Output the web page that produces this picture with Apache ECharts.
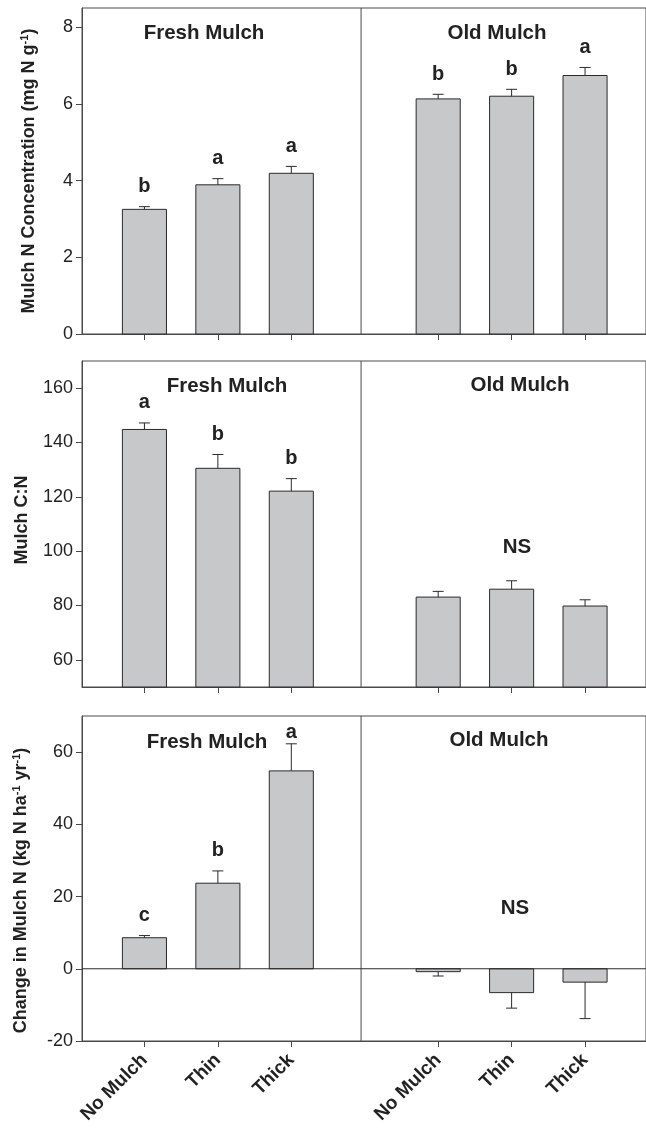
<!DOCTYPE html>
<html>
<head>
<meta charset="utf-8">
<script src="https://cdn.jsdelivr.net/npm/echarts@6/dist/echarts.min.js"></script>
<style>
  html, body { margin: 0; padding: 0; background: #fff; }
  #chart { width: 646px; height: 1129px; }
</style>
</head>
<body>
<div id="chart"></div>
<script>
// Mulch groups and treatments
const groups = ['Fresh Mulch', 'Old Mulch'];
const treatments = ['No Mulch', 'Thin', 'Thick'];

// Panel 1: mulch N concentration (mg N g-1), mean and SE
const nConc = [3.25, 3.89, 4.19, 6.13, 6.20, 6.74];
const nConcErr = [0.07, 0.16, 0.18, 0.12, 0.18, 0.21];
const nConcLetters = ['b', 'a', 'a', 'b', 'b', 'a'];
const nConcTicks = [0, 2, 4, 6, 8];

// Panel 2: mulch C:N
const cn = [144.8, 130.5, 122.1, 83.1, 86.0, 79.8];
const cnErr = [2.4, 5.1, 4.6, 2.1, 3.1, 2.3];
const cnLetters = ['a', 'b', 'b', '', '', ''];
const cnTicks = [60, 80, 100, 120, 140, 160];

// Panel 3: change in mulch N (kg N ha-1 yr-1)
const dN = [8.6, 23.7, 54.8, -0.8, -6.6, -3.7];
const dNErr = [0.6, 3.4, 7.5, 1.2, 4.3, 10.1];
const dNLetters = ['c', 'b', 'a', '', '', ''];
const dNTicks = [-20, 0, 20, 40, 60];

const FONT = 'Liberation Sans, Arial, Helvetica, sans-serif';
const AXIS = '#4a4a4a';
const INK = '#222';

// bar i sits at group*4 + treatment + 1 on the x value axis
const xOf = i => Math.floor(i / 3) * 4 + (i % 3) + 1;
const barTicks = [0, 1, 2, 3, 4, 5].map(xOf);

const panels = [
  { top: 8, height: 326, min: 0, max: 8.5, base: 0, ticks: nConcTicks,
    vals: nConc, errs: nConcErr, letters: nConcLetters, nameGap: 43, namePad: [0, 0, 0, 0],
    name: 'Mulch N Concentration (mg N g{sup|-1})' },
  { top: 361, height: 326, min: 50, max: 170, base: 50, ticks: cnTicks,
    vals: cn, errs: cnErr, letters: cnLetters, nameGap: 51, namePad: [0, 0, 0, 8],
    name: 'Mulch C:N' },
  { top: 716, height: 325, min: -20, max: 70, base: 0, ticks: dNTicks,
    vals: dN, errs: dNErr, letters: dNLetters, nameGap: 51, namePad: [0, 24, 0, 0], zeroLine: true,
    name: 'Change in Mulch N (kg N ha{sup|-1} yr{sup|-1})' }
];

const grid = [], xAxis = [], yAxis = [], series = [];

panels.forEach((p, k) => {
  grid.push({ left: 82, top: p.top, width: 566, height: p.height,
              show: true, borderColor: AXIS, borderWidth: 1, backgroundColor: 'transparent' });
  const last = k === panels.length - 1;
  xAxis.push({
    gridIndex: k, type: 'value', min: 0.15, max: 7.83,
    axisLine: { show: true, onZero: false, lineStyle: { color: AXIS, width: 1 } },
    axisTick: { show: true, length: 6, customValues: barTicks, lineStyle: { color: AXIS } },
    axisLabel: {
      show: last, customValues: barTicks, rotate: 45, margin: 16,
      fontFamily: FONT, fontSize: 19, fontWeight: 'bold', color: INK,
      formatter: v => treatments[(v - 1) % 4]
    },
    splitLine: { show: false }
  });
  yAxis.push({
    gridIndex: k, type: 'value', min: p.min, max: p.max,
    axisLine: { show: true, lineStyle: { color: AXIS, width: 1 } },
    axisTick: { show: true, length: 6, customValues: p.ticks, lineStyle: { color: AXIS } },
    axisLabel: { customValues: p.ticks, margin: 9, fontFamily: FONT, fontSize: 18, color: INK },
    splitLine: { show: false },
    name: p.name, nameLocation: 'middle', nameRotate: 90, nameGap: p.nameGap,
    nameTextStyle: {
      fontFamily: FONT, fontSize: 18, fontWeight: 'bold', color: INK, padding: p.namePad,
      rich: { sup: { fontFamily: FONT, fontSize: 11, fontWeight: 'bold', color: INK,
                     verticalAlign: 'top', padding: [0, 0, 9, 0] } }
    }
  });

  // bars with one-sided error bars and significance letters
  series.push({
    type: 'custom', xAxisIndex: k, yAxisIndex: k, silent: true,
    data: p.vals.map((v, i) => [xOf(i), v, p.errs[i]]),
    renderItem: (params, api) => {
      const x = api.value(0), v = api.value(1), e = api.value(2);
      const dir = v >= 0 ? 1 : -1;
      const a = api.coord([x - 0.3, p.base]);
      const b = api.coord([x + 0.3, v]);
      const c = api.coord([x, v]);
      const t = api.coord([x, v + dir * e]);
      const children = [
        { type: 'rect',
          shape: { x: a[0], y: Math.min(a[1], b[1]), width: b[0] - a[0], height: Math.abs(a[1] - b[1]) },
          style: { fill: '#c7c8ca', stroke: '#2a2a2a', lineWidth: 1 } },
        { type: 'line', shape: { x1: c[0], y1: c[1], x2: t[0], y2: t[1] },
          style: { stroke: '#2a2a2a', lineWidth: 1 } },
        { type: 'line', shape: { x1: t[0] - 5.5, y1: t[1], x2: t[0] + 5.5, y2: t[1] },
          style: { stroke: '#2a2a2a', lineWidth: 1 } }
      ];
      const letter = p.letters[params.dataIndex];
      if (letter) {
        children.push({ type: 'text', x: t[0], y: Math.max(t[1] - 20, params.coordSys.y + 16),
          style: { text: letter, fontFamily: FONT, fontSize: 20, fontWeight: 'bold', fill: INK,
                   align: 'center', verticalAlign: 'middle' } });
      }
      return { type: 'group', children };
    }
  });

  // divider between the fresh and old groups, plus the zero line where the axis goes negative
  series.push({
    type: 'custom', xAxisIndex: k, yAxisIndex: k, silent: true, z: 3,
    data: [[3.95, 0]],
    renderItem: (params, api) => {
      const cs = params.coordSys;
      const d = api.coord([api.value(0), api.value(1)]);
      const children = [
        { type: 'line', shape: { x1: d[0], y1: cs.y, x2: d[0], y2: cs.y + cs.height },
          style: { stroke: AXIS, lineWidth: 1 } }
      ];
      if (p.zeroLine) {
        children.push({ type: 'line', shape: { x1: cs.x, y1: d[1], x2: cs.x + cs.width, y2: d[1] },
          style: { stroke: '#2a2a2a', lineWidth: 1 } });
      }
      return { type: 'group', children };
    }
  });
});

// group headings and "not significant" notes
const heading = (text, x, y) => ({
  type: 'text', x, y,
  style: { text, fontFamily: FONT, fontSize: 20.5, fontWeight: 'bold', fill: INK,
           align: 'center', verticalAlign: 'middle' }
});

const chart = echarts.init(document.getElementById('chart'), null, { renderer: 'canvas' });
chart.setOption({
  animation: false,
  backgroundColor: '#fff',
  grid, xAxis, yAxis, series,
  graphic: [
    heading(groups[0], 204, 33), heading(groups[1], 497, 33),
    heading(groups[0], 227, 386), heading(groups[1], 520, 385),
    heading(groups[0], 207, 742), heading(groups[1], 499, 740),
    heading('NS', 517, 547), heading('NS', 515, 908)
  ]
});
</script>
</body>
</html>
